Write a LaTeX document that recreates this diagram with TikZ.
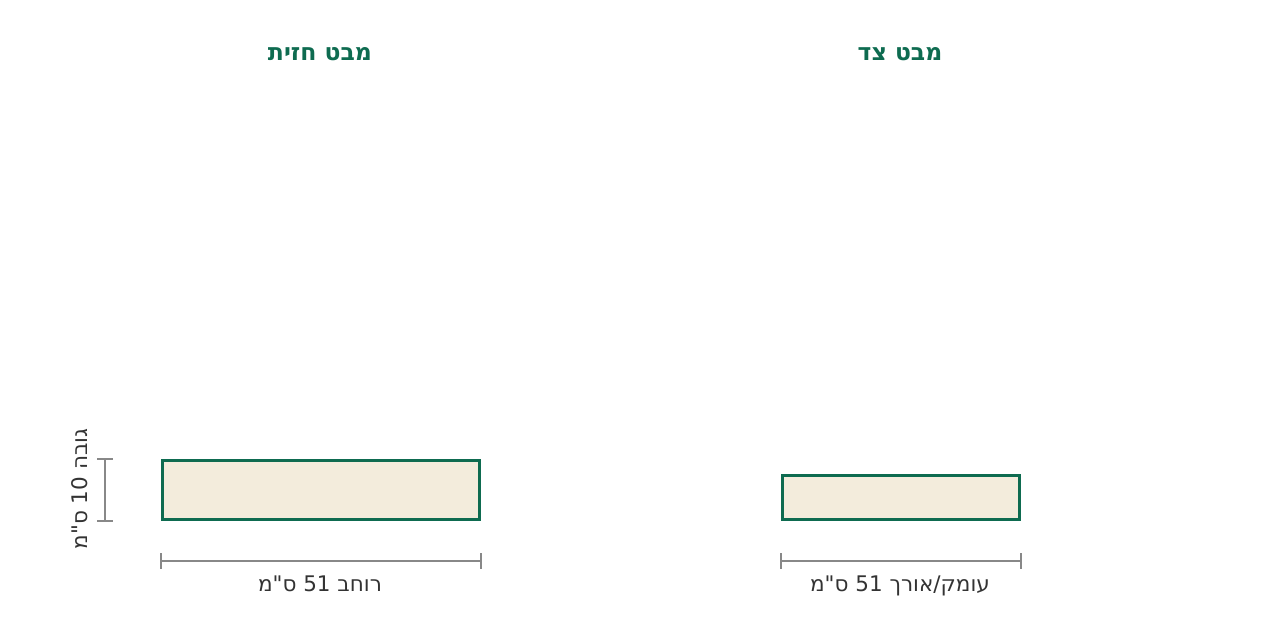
\documentclass[tikz,border=0pt]{standalone}
\usepackage{fontspec}
\TeXXeTstate=1
\newfontfamily\hebfont[Script=Hebrew]{DejaVu Sans}
\definecolor{dkgreen}{HTML}{0E6B50}
\definecolor{cream}{HTML}{F3ECDC}
\definecolor{dimgray}{HTML}{888888}
\definecolor{txtgray}{HTML}{333333}
\begin{document}
\begin{tikzpicture}[x=1pt,y=-1pt,
  title/.style={font=\hebfont\bfseries\fontsize{23.5}{28}\selectfont, text=dkgreen, inner sep=0, anchor=base},
  lbl/.style={font=\hebfont\fontsize{21.5}{26}\selectfont, text=txtgray, inner sep=0},
  box/.style={draw=dkgreen, fill=cream, line width=3pt},
  dimline/.style={draw=dimgray, line width=1.5pt}]
\useasboundingbox (0,0) rectangle (1280,640);
\node[title] (t1) at (320,60) {\beginR מבט חזית\endR};
\node[title] (t2) at (900,60) {\beginR מבט צד\endR};
\draw[box] (162,460) rectangle (479,519);
\draw[box] (782,475) rectangle (1019,519);
% front width
\coordinate (fw1) at (161,561); \coordinate (fw2) at (481,561);
\draw[dimline] (fw1) -- (fw2);
\draw[dimline] (161,553) -- (161,569);
\draw[dimline] (481,553) -- (481,569);
\node[lbl, anchor=base] (l1) at (320,591) {\beginR רוחב \beginL51\endL{} ס"מ\endR};
% height
\coordinate (h1) at (105,459); \coordinate (h2) at (105,521);
\draw[dimline] (h1) -- (h2);
\draw[dimline] (97,459) -- (113,459);
\draw[dimline] (97,521) -- (113,521);
\node[lbl, rotate=90] (l2) at (80,489) {\beginR גובה \beginL10\endL{} ס"מ\endR};
% side depth
\coordinate (s1) at (781,561); \coordinate (s2) at (1021,561);
\draw[dimline] (s1) -- (s2);
\draw[dimline] (781,553) -- (781,569);
\draw[dimline] (1021,553) -- (1021,569);
\node[lbl, anchor=base] (l3) at (900,591) {\beginR עומק/אורך \beginL51\endL{} ס"מ\endR};
\end{tikzpicture}
\end{document}
